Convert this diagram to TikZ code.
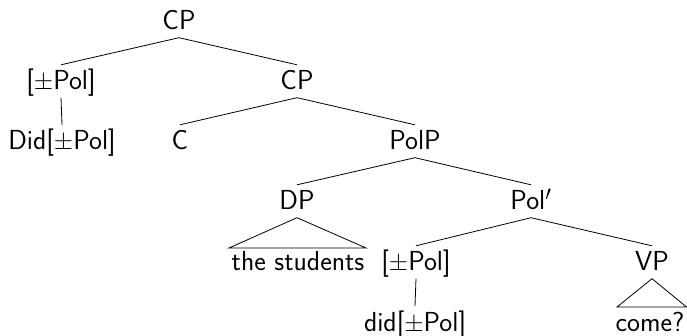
\documentclass[tikz,border=0pt]{standalone}
\usepackage{amsmath}
\begin{document}
\begin{tikzpicture}[x=1pt,y=-1pt,
  lab/.style={font=\sffamily\fontsize{27.5}{33}\selectfont, anchor=base, inner xsep=0pt, inner ysep=7.5pt, text height=17.5pt, text depth=0pt},
  edge/.style={draw=black, line width=0.8pt},
  tri/.style={draw=black, line width=0.8pt}]
\useasboundingbox (0,0) rectangle (687,336);
% level baselines: 30, 90, 150, 210, 271, 331
\node[lab] (cp1) at (179,30) {CP};
\node[lab] (pol1) at (61,90) {[$\pm$Pol]};
\node[lab] (cp2) at (297,90) {CP};
\node[lab] (did1) at (62,150) {Did[$\pm$Pol]};
\node[lab] (c) at (180,150) {C};
\node[lab] (polp) at (415,150) {PolP};
\node[lab] (dp) at (297,210) {DP};
\node[lab] (polbar) at (531,210) {Pol$'$};
\node[lab] (stud) at (298,271) {the students};
\node[lab] (pol2) at (416,271) {[$\pm$Pol]};
\node[lab] (vp) at (652,271) {VP};
\node[lab] (did2) at (415,331) {did[$\pm$Pol]};
\node[lab] (come) at (650,331) {come?};
\draw[edge] (cp1.south) -- (pol1.north);
\draw[edge] (cp1.south) -- (cp2.north);
\draw[edge] (pol1.south) -- (did1.north);
\draw[edge] (cp2.south) -- (c.north);
\draw[edge] (cp2.south) -- (polp.north);
\draw[edge] (polp.south) -- (dp.north);
\draw[edge] (polp.south) -- (polbar.north);
\draw[edge] (polbar.south) -- (pol2.north);
\draw[edge] (polbar.south) -- (vp.north);
\draw[edge] (pol2.south) -- (did2.north);
\coordinate (dpl) at (229,248);
\coordinate (dpr) at (366,248);
\draw[tri] (dp.south) -- (dpl) -- (dpr) -- cycle;
\coordinate (vpl) at (617,307);
\coordinate (vpr) at (686.5,307);
\draw[tri] (vp.south) -- (vpl) -- (vpr) -- cycle;
\end{tikzpicture}
\end{document}
